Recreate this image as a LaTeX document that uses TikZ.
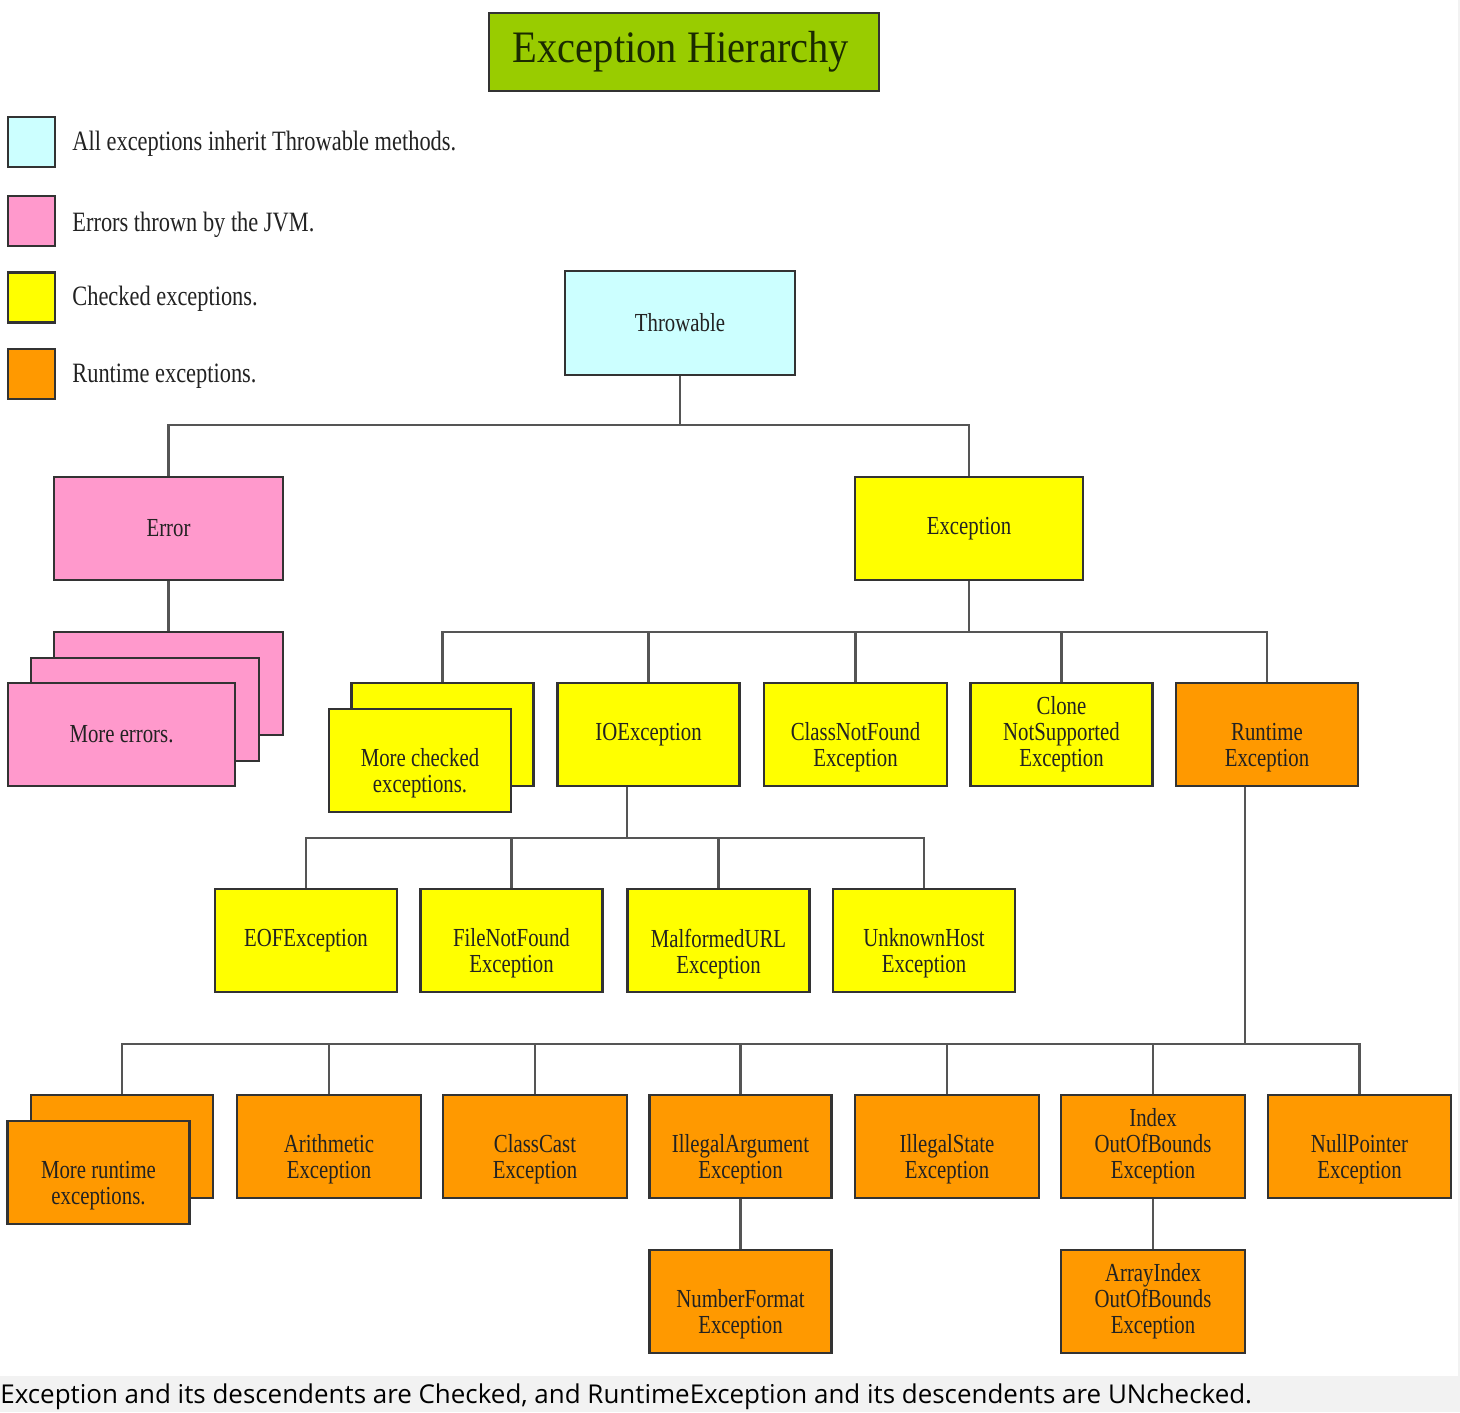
\documentclass[tikz,border=0pt]{standalone}
\usepackage{fontspec}
\setmainfont{Liberation Serif}
\newfontfamily\boxfont[FakeStretch=0.8]{Liberation Serif}
\newfontfamily\legfont[FakeStretch=0.8]{Liberation Serif}
\newfontfamily\titlefont[FakeStretch=0.9]{Liberation Serif}
\newfontfamily\capfont{Open Sans}
\definecolor{chk}{HTML}{FFFF00}
\definecolor{rte}{HTML}{FF9900}
\definecolor{errc}{HTML}{FF99CC}
\definecolor{thrc}{HTML}{CCFFFF}
\definecolor{titlec}{HTML}{99CC00}
\definecolor{titletxt}{HTML}{1A2A00}
\definecolor{boxline}{HTML}{333333}
\definecolor{lin}{HTML}{555555}
\definecolor{txt}{HTML}{222222}
\definecolor{capbg}{HTML}{F2F2F2}
\newcommand{\tl}{\strut\\}
\begin{document}
\begin{tikzpicture}[x=0.5pt,y=-0.5pt,
  box/.style={draw=boxline, line width=1.2pt, minimum width=91pt, minimum height=51.5pt,
    align=center, inner sep=2pt, font=\boxfont\fontsize{13}{13}\selectfont, text=txt},
  ybox/.style={box, fill=chk},
  obox/.style={box, fill=rte},
  pbox/.style={box, fill=errc},
  conn/.style={draw=lin, line width=1.4pt},
  legsq/.style={draw=boxline, line width=1.2pt, minimum width=23.5pt, minimum height=25pt, inner sep=0pt},
  legtxt/.style={anchor=west, inner sep=0pt, font=\legfont\fontsize{14}{16}\selectfont, text=txt}]
% background and bounds
\fill[capbg] (0,0) rectangle (1460,1412);
\fill[white] (0,0) rectangle (1458,1376);
\useasboundingbox (0,0) rectangle (1460,1412);

% title
\node[box, fill=titlec, minimum width=195pt, minimum height=39pt,
  font=\titlefont\fontsize{22.5}{24}\selectfont, text=titletxt] (title) at (684,52) {Exception Hierarchy\hspace*{3pt}};

% legend
\node[legsq, fill=thrc] (lg1) at (31.5,142) {};
\node[legsq, fill=errc] (lg2) at (31.5,221) {};
\node[legsq, fill=chk] (lg3) at (31.5,297.5) {};
\node[legsq, fill=rte] (lg4) at (31.5,374) {};
\node[legtxt] (lt1) at (72,144) {All exceptions inherit Throwable methods.};
\node[legtxt] (lt2) at (72,225) {Errors thrown by the JVM.};
\node[legtxt] (lt3) at (72,299) {Checked exceptions.};
\node[legtxt] (lt4) at (72,376) {Runtime exceptions.};

% level 0/1
\node[box, fill=thrc, minimum width=115pt, minimum height=52pt] (thr) at (680,323) {Throwable};
\node[pbox, minimum width=114.5pt] (err) at (168.5,528.5) {Error};
\node[ybox, minimum width=114pt] (exc) at (969,528.5) {Exception};

% more errors stack
\node[pbox, minimum width=114.5pt] (me3) at (168.5,683.5) {};
\node[pbox, minimum width=114pt] (me2) at (145,709.5) {};
\node[pbox, minimum width=113.5pt] (me1) at (121.5,734.5) {More errors.};

% exception children
\node[ybox] (mc2) at (442.5,734.5) {};
\node[ybox] (mc1) at (420,760.5) {\tl More checked\\exceptions.};
\node[ybox] (io) at (648.5,734.5) {IOException};
\node[ybox, minimum width=91.5pt] (cnf) at (855.5,734.5) {\tl ClassNotFound\\Exception};
\node[ybox] (cns) at (1061.5,734.5) {Clone\\NotSupported\\Exception};
\node[obox] (rt) at (1267,734.5) {\tl Runtime\\Exception};

% IOException children
\node[ybox] (eof) at (306,940.5) {EOFException};
\node[ybox] (fnf) at (511.5,940.5) {\tl FileNotFound\\Exception};
\node[ybox] (murl) at (718.5,940.5) {\tl MalformedURL\\Exception};
\node[ybox] (uh) at (924,940.5) {\tl UnknownHost\\Exception};

% runtime children
\node[obox] (mr2) at (122,1146.5) {};
\node[obox] (mr1) at (98.5,1172.5) {\tl More runtime\\exceptions.};
\node[obox, minimum width=92pt] (ar) at (329,1146.5) {\tl Arithmetic\\Exception};
\node[obox, minimum width=92pt] (cc) at (535,1146.5) {\tl ClassCast\\Exception};
\node[obox] (ia) at (740.5,1146.5) {\tl IllegalArgument\\Exception};
\node[obox, minimum width=92pt] (is) at (947,1146.5) {\tl IllegalState\\Exception};
\node[obox, minimum width=92pt] (ioob) at (1153,1146.5) {Index\\OutOfBounds\\Exception};
\node[obox, minimum width=91.5pt] (np) at (1359.5,1146.5) {\tl NullPointer\\Exception};
\node[obox] (nf) at (740.5,1301.5) {\tl NumberFormat\\Exception};
\node[obox, minimum width=92pt] (aioob) at (1153,1301.5) {ArrayIndex\\OutOfBounds\\Exception};

% connectors
\coordinate (b1) at (681,425);
\coordinate (b2) at (969,632);
\coordinate (b3) at (627,838);
\coordinate (b4) at (1245,1044);
\draw[conn] (thr.south) -- (thr.south |- b1) -| (err.north);
\draw[conn] (thr.south |- b1) -| (exc.north);
\draw[conn] (err.south) -- (me3.north);
\draw[conn] (exc.south) -- (b2) -| (mc2.north);
\draw[conn] (b2) -| (io.north);
\draw[conn] (b2) -| (cnf.north);
\draw[conn] (b2) -| (cns.north);
\draw[conn] (b2) -| (rt.north);
\draw[conn] (io.south -| b3) -- (b3) -| (eof.north);
\draw[conn] (b3) -| (fnf.north);
\draw[conn] (b3) -| (murl.north);
\draw[conn] (b3) -| (uh.north);
\draw[conn] (rt.south -| b4) -- (b4) -| (mr2.north);
\draw[conn] (b4) -| (ar.north);
\draw[conn] (b4) -| (cc.north);
\draw[conn] (b4) -| (ia.north);
\draw[conn] (b4) -| (is.north);
\draw[conn] (b4) -| (ioob.north);
\draw[conn] (b4) -| (np.north);
\draw[conn] (ia.south) -- (nf.north);
\draw[conn] (ioob.south) -- (aioob.north);

% caption
\node[anchor=base west, inner sep=0pt, font=\capfont\fontsize{12.97}{14}\selectfont, text=black] (cap) at (0,1403)
  {Exception and its descendents are Checked, and RuntimeException and its descendents are UNchecked.};
\end{tikzpicture}
\end{document}
